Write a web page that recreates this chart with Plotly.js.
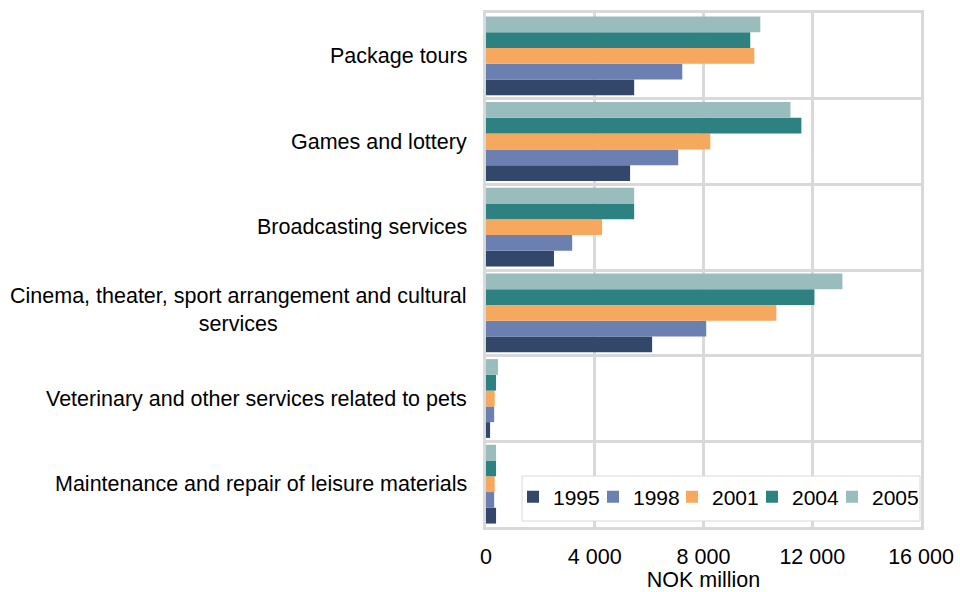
<!DOCTYPE html>
<html>
<head>
<meta charset="utf-8">
<script src="https://cdn.plot.ly/plotly-3.0.1.min.js"></script>
<style>html,body{margin:0;padding:0;background:#fff;}#chart{width:960px;height:592px;}</style>
</head>
<body>
<div id="chart"></div>
<script>
// Categories listed top to bottom as in the chart
const categories = [
  "Package tours",
  "Games and lottery",
  "Broadcasting services",
  "Cinema, theater, sport arrangement and cultural services",
  "Veterinary and other services related to pets",
  "Maintenance and repair of leisure materials"
];
const categoryLabels = [
  "Package tours",
  "Games and lottery",
  "Broadcasting services",
  "Cinema, theater, sport arrangement and cultural<br>services",
  "Veterinary and other services related to pets",
  "Maintenance and repair of leisure materials"
];
const years = ["1995", "1998", "2001", "2004", "2005"];
const v1995 = [5450, 5300, 2500, 6110, 150, 370];
const v1998 = [7220, 7070, 3170, 8100, 300, 300];
const v2001 = [9870, 8250, 4270, 10680, 320, 320];
const v2004 = [9720, 11600, 5450, 12080, 370, 370];
const v2005 = [10090, 11200, 5450, 13110, 440, 370];
const xTickVals = [0, 4000, 8000, 12000, 16000];
const xTickText = ["0", "4 000", "8 000", "12 000", "16 000"];

const seriesValues = [v1995, v1998, v2001, v2004, v2005];
const colors = ["#33476a", "#6b80b1", "#f6a95e", "#2d8281", "#99bdbd"];
const legendIds = ["legend", "legend2", "legend3", "legend4", "legend5"];

const traces = years.map((yr, i) => ({
  type: "bar",
  orientation: "h",
  name: yr,
  y: categories,
  x: seriesValues[i],
  marker: {color: colors[i], line: {width: 0}},
  legend: legendIds[i],
  hoverinfo: "x+name"
}));

const fontFam = "'Liberation Sans', Arial, sans-serif";
const FS = 21.5;
const annotations = categories.map((c, i) => ({
  xref: "paper", yref: "y", x: 0, y: c,
  xanchor: "right", yanchor: "middle", xshift: -17, yshift: i === 3 ? 3 : 0,
  text: categoryLabels[i], align: "center", showarrow: false,
  font: {family: fontFam, size: FS, color: "#000"}
}));

const layout = {
  width: 960, height: 592,
  margin: {l: 486, r: 39, t: 13, b: 65},
  paper_bgcolor: "#fff", plot_bgcolor: "#fff",
  font: {family: fontFam, size: FS, color: "#000"},
  barmode: "group",
  bargap: 0.08, bargroupgap: 0,
  showlegend: true,
  shapes: [{
    type: "rect", xref: "paper", yref: "paper", layer: "above",
    x0: 0.0828, x1: 0.9977, y0: 0.0117, y1: 0.0992,
    fillcolor: "#fff", line: {color: "#d9d9d9", width: 1}
  }],
  xaxis: {
    range: [0, 16000], tickvals: xTickVals, ticktext: xTickText,
    showgrid: true, gridcolor: "#d9d9d9", gridwidth: 3,
    showline: true, linecolor: "#d9d9d9", linewidth: 3, mirror: true,
    zeroline: false, ticks: "", ticklabelstandoff: 8,
    tickfont: {family: fontFam, size: FS, color: "#000"},
    title: {text: "NOK million", standoff: 6, font: {family: fontFam, size: FS, color: "#000"}}
  },
  yaxis: {
    type: "category",
    categoryorder: "array", categoryarray: categories.slice().reverse(),
    tickson: "boundaries", showticklabels: false, ticks: "",
    showgrid: true, gridcolor: "#d9d9d9", gridwidth: 3,
    showline: true, linecolor: "#d9d9d9", linewidth: 3, mirror: true,
    zeroline: false
  },
  annotations: annotations
};

// one single-entry legend per series, laid out in a row inside the framed box
const legendLeftPx = [513, 593, 672, 752, 832];
legendIds.forEach((id, i) => {
  layout[id] = {
    orientation: "h", xanchor: "left", x: (legendLeftPx[i] - 486) / 435,
    y: 0.0584, yanchor: "middle",
    bgcolor: "rgba(0,0,0,0)", borderwidth: 0,
    font: {family: fontFam, size: 21, color: "#000"},
    itemwidth: 30
  };
});

Plotly.newPlot("chart", traces, layout, {displayModeBar: false, staticPlot: true});
</script>
</body>
</html>
